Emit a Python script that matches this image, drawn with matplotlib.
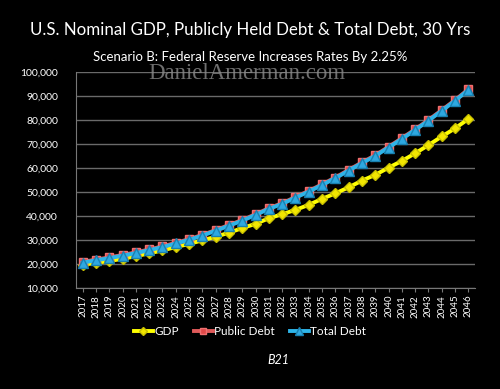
import matplotlib.pyplot as plt
from matplotlib.ticker import FuncFormatter

years = list(range(2017, 2047))
gdp = [19.6, 20.4, 21.2, 22.1, 23.2, 24.4, 25.6, 27.0, 28.3, 29.8, 31.3, 33.0, 34.9,
       36.7, 39.0, 40.7, 42.5, 44.6, 47.1, 49.4, 51.9, 54.7, 57.1, 60.1, 62.9, 66.1,
       69.5, 73.1, 76.5, 80.4]
total_debt = [20.5, 21.5, 22.4, 23.4, 24.5, 25.7, 27.0, 28.5, 30.0, 31.8, 33.8, 35.9, 38.0,
              40.4, 42.9, 45.0, 47.6, 50.1, 52.9, 55.7, 58.9, 62.0, 65.0, 68.5, 72.1, 75.8,
              79.7, 83.8, 88.0, 92.5]
public_debt = [20.8, 21.8, 22.7, 23.7, 24.8, 26.0, 27.3, 28.8, 30.3, 32.1, 34.1, 36.2, 38.3,
               40.7, 43.2, 45.3, 47.9, 50.4, 53.2, 56.0, 59.2, 62.3, 65.3, 68.8, 72.4, 76.1,
               80.0, 84.1, 88.3, 92.8]

gdp = [v * 1000 for v in gdp]
total_debt = [v * 1000 for v in total_debt]
public_debt = [v * 1000 for v in public_debt]

plt.rcParams['font.family'] = ['Lato', 'DejaVu Sans']

fig = plt.figure(figsize=(5, 3.89), dpi=100, facecolor='black')
ax = fig.add_axes([0.152, 0.26, 0.798, 0.555], facecolor='black')

x = list(range(len(years)))
ax.plot(x, gdp, color='#FFFF00', lw=2.8, marker='D', ms=5.5,
        mfc='#F2E600', mec='#C8C000', label='GDP', zorder=3)
ax.plot(x, public_debt, color='#E05A5A', lw=2.8, marker='s', ms=5.5,
        mfc='#E04848', mec='#F07070', label='Public Debt', zorder=3)
ax.plot(x, total_debt, color='#2EB4E8', lw=2.8, marker='^', ms=6.5,
        mfc='#2EA8E0', mec='#1880B0', label='Total Debt', zorder=4)

ax.set_xlim(-0.5, len(years) - 0.5)
ax.set_ylim(10000, 100000)
ax.set_yticks(range(10000, 100001, 10000))
ax.yaxis.set_major_formatter(FuncFormatter(lambda v, p: f'{int(v):,}'))
ax.set_xticks(x)
ax.set_xticklabels([str(y) for y in years], rotation=90)
ax.tick_params(axis='y', colors='white', labelsize=7.5, length=0, pad=13)
ax.tick_params(axis='x', colors='white', labelsize=7, length=3, pad=2)
ax.tick_params(axis='x', color='#777777')
ax.grid(axis='y', color='#6a6a6a', lw=1)
ax.set_axisbelow(True)
for s in ['top', 'right']:
    ax.spines[s].set_visible(False)
ax.spines['left'].set_color('#777777')
ax.spines['bottom'].set_color('#777777')

fig.text(0.5, 0.922, 'U.S. Nominal GDP, Publicly Held Debt & Total Debt, 30 Yrs',
         color='white', fontsize=12.2, ha='center', va='center')
fig.text(0.5, 0.853, 'Scenario B: Federal Reserve Increases Rates By 2.25%',
         color='white', fontsize=9.5, ha='center', va='center')
fig.text(0.494, 0.812, 'DanielAmerman.com', color='#8a8a8a', alpha=0.8,
         fontsize=16.5, family='Liberation Serif', ha='center', va='center', zorder=10)

leg = fig.legend(loc='center', bbox_to_anchor=(0.5, 0.148), ncol=3, frameon=False,
                 fontsize=8.5, labelcolor='white', handlelength=1.6, handletextpad=0.1,
                 columnspacing=1.3, markerscale=0.8)
fig.text(0.556, 0.075, 'B21', color='white', fontsize=9, style='italic',
         ha='center', va='center')

fig.savefig('out.png', dpi=100, facecolor='black')
